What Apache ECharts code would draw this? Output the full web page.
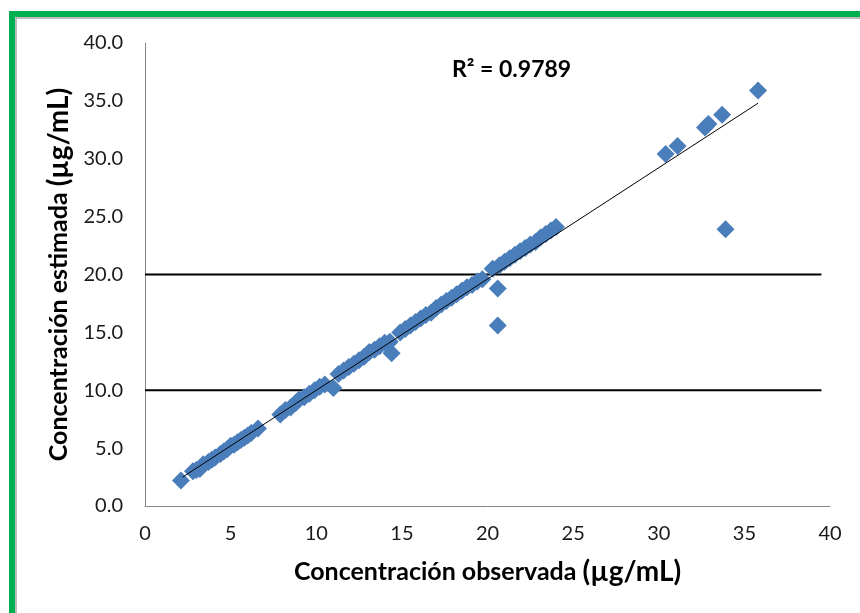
<!DOCTYPE html>
<html>
<head>
<meta charset="utf-8">
<script src="https://cdn.jsdelivr.net/npm/echarts@6/dist/echarts.min.js"></script>
<style>
  html, body { margin: 0; padding: 0; background: #fff; }
  #chart { width: 860px; height: 613px; }
</style>
</head>
<body>
<div id="chart"></div>
<script>
(function () {
  'use strict';

  var obsX = [
    2.1, 2.8, 3.0, 3.2, 3.4, 3.7, 3.9, 4.1, 4.4, 4.6, 4.8, 5.0, 5.2, 5.4, 5.6, 5.8, 6.0, 6.2, 6.6,
    7.9, 8.2, 8.5, 8.8, 9.0, 9.3, 9.6, 9.9, 10.2, 10.5, 11.0,
    11.3, 11.6, 11.9, 12.2, 12.5, 12.8, 13.1, 13.4, 13.7, 14.0, 14.3, 14.4,
    14.9, 15.2, 15.5, 15.8, 16.1, 16.4, 16.7, 17.0, 17.3, 17.6, 17.9, 18.2, 18.5, 18.8, 19.1, 19.4, 19.7,
    20.3, 20.6, 20.6, 20.7, 21.0, 21.3, 21.6, 21.9, 22.2, 22.5, 22.8, 23.1, 23.4, 23.7, 24.0,
    30.4, 31.1, 32.7, 32.9, 33.7, 33.9, 35.8
  ];
  var estY = [
    2.2, 3.0, 3.1, 3.2, 3.6, 3.8, 4.0, 4.2, 4.5, 4.7, 4.9, 5.2, 5.3, 5.5, 5.7, 5.9, 6.1, 6.3, 6.7,
    7.9, 8.3, 8.5, 8.9, 9.2, 9.4, 9.7, 10.0, 10.3, 10.5, 10.2,
    11.4, 11.7, 12.0, 12.3, 12.6, 12.9, 13.3, 13.5, 13.8, 14.1, 14.2, 13.2,
    15.0, 15.3, 15.6, 15.9, 16.2, 16.5, 16.7, 17.1, 17.4, 17.7, 18.0, 18.3, 18.6, 18.9, 19.1, 19.4, 19.6,
    20.5, 18.8, 15.6, 20.8, 21.1, 21.4, 21.7, 22.0, 22.3, 22.6, 22.8, 23.2, 23.5, 23.8, 24.1,
    30.4, 31.1, 32.7, 33.0, 33.8, 23.9, 35.9
  ];

  // linear trend end points and the two horizontal limit lines
  var trendX = [2.2, 35.8];
  var trendY = [2.5, 34.8];
  var limitY = [10, 20];
  var limitX = [0, 39.5];

  var xTicks = [0, 5, 10, 15, 20, 25, 30, 35, 40];
  var yTicks = [0, 5, 10, 15, 20, 25, 30, 35, 40];

  var r2Label = 'R² = 0.9789';
  var xTitle = 'Concentración observada ';
  var yTitle = 'Concentración estimada ';
  var unit = '(µg/mL)';

  var FONT = 'Lato, "Open Sans", sans-serif';
  var BLUE = '#4a7ebb';
  var AXIS = '#868686';

  var points = obsX.map(function (x, i) { return [x, estY[i]]; });
  var trend = trendX.map(function (x, i) { return [x, trendY[i]]; });

  var limitSeries = limitY.map(function (y) {
    return {
      type: 'line',
      data: limitX.map(function (x) { return [x, y]; }),
      symbol: 'none',
      silent: true,
      z: 1,
      lineStyle: { color: '#000', width: 2 }
    };
  });

  var nameRich = {
    t: { fontFamily: FONT, fontWeight: 'bold', fontSize: 25, color: '#000' },
    u: { fontFamily: FONT, fontWeight: 'bold', fontSize: 28, color: '#000' }
  };

  var chart = echarts.init(document.getElementById('chart'), null, { renderer: 'canvas' });
  chart.setOption({
    animation: false,
    backgroundColor: '#fff',
    grid: { left: 145, top: 43, right: 30, bottom: 107 },
    graphic: [
      {
        type: 'rect',
        shape: { x: 12, y: 14, width: 900, height: 700 },
        style: { fill: 'none', stroke: '#00b050', lineWidth: 6 },
        silent: true
      },
      {
        type: 'rect',
        shape: { x: 16, y: 18, width: 900, height: 700 },
        style: { fill: 'none', stroke: '#a6a6a6', lineWidth: 1.5 },
        silent: true
      },
      {
        type: 'text',
        left: 452,
        top: 58,
        style: { text: r2Label, fontFamily: FONT, fontWeight: 'bold', fontSize: 23, fill: '#000' }
      }
    ],
    xAxis: {
      type: 'value',
      min: xTicks[0],
      max: xTicks[xTicks.length - 1],
      interval: 5,
      splitLine: { show: false },
      axisTick: { show: false },
      axisLine: { lineStyle: { color: AXIS, width: 1 } },
      axisLabel: { fontFamily: FONT, fontSize: 20, color: '#1a1a1a', margin: 18 },
      name: '{t|' + xTitle + '}{u|' + unit + '}',
      nameLocation: 'middle',
      nameGap: 52,
      nameTextStyle: { rich: nameRich }
    },
    yAxis: {
      type: 'value',
      min: yTicks[0],
      max: yTicks[yTicks.length - 1],
      interval: 5,
      splitLine: { show: false },
      axisTick: { show: false },
      axisLine: { show: true, lineStyle: { color: AXIS, width: 1 } },
      axisLabel: {
        fontFamily: FONT, fontSize: 20, color: '#1a1a1a', margin: 22,
        formatter: function (v) { return v.toFixed(1); }
      },
      name: '{t|' + yTitle + '}{u|' + unit + '}',
      nameLocation: 'middle',
      nameGap: 58,
      nameTextStyle: { rich: nameRich }
    },
    series: limitSeries.concat([
      {
        type: 'scatter',
        data: points,
        symbol: 'diamond',
        symbolSize: 18,
        z: 2,
        itemStyle: { color: BLUE, opacity: 1 }
      },
      {
        type: 'line',
        data: trend,
        symbol: 'none',
        z: 3,
        lineStyle: { color: '#000', width: 1 }
      }
    ])
  });
})();
</script>
</body>
</html>
